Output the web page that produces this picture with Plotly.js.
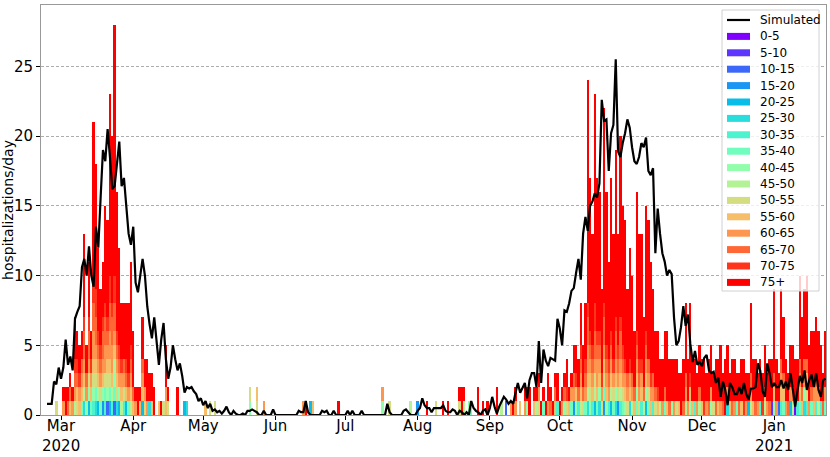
<!DOCTYPE html>
<html>
<head>
<meta charset="utf-8">
<script src="https://cdn.plot.ly/plotly-3.0.1.min.js"></script>
<style>
    html, body { margin: 0; padding: 0; background: #fff; }
    #hospPlot { width: 830px; height: 457px; }
</style>
</head>
<body>
<div id="hospPlot"></div>
<script>
// Daily series start on 24 Feb 2020, one entry per day up to 23 Jan 2021.
const startDate = "2020-02-24";

const ageGroups = [
    "0-5", "5-10", "10-15", "15-20", "20-25", "25-30", "30-35", "35-40",
    "40-45", "45-50", "50-55", "55-60", "60-65", "65-70", "70-75", "75+"
];

// Simulated hospitalizations per day (black line).
const simulated = [
    0.8, 0.8, 0.8, 2.4, 2.2, 3.4, 2.6, 3.4, 5.4, 3.6,
    4.2, 3.2, 6.9, 7.4, 7.8, 10.6, 11.2, 10.0, 12.1, 10.0,
    9.2, 13.5, 12.0, 15.6, 19.0, 18.2, 20.5, 18.5, 16.2, 16.4,
    17.8, 19.6, 16.4, 17.0, 15.0, 13.0, 12.2, 13.5, 9.5, 8.8,
    10.0, 11.2, 10.0, 7.8, 6.5, 5.5, 7.0, 5.3, 3.6, 5.4,
    6.6, 4.0, 2.6, 3.4, 5.0, 4.0, 3.2, 3.7, 2.8, 1.6,
    2.0, 1.9, 2.0, 1.7, 1.5, 1.0, 1.2, 0.7, 1.0, 0.5,
    0.8, 0.3, 0.4, 0.2, 0.3, 0.1, 0.3, 0.6, 0.2, 0.0,
    0.3, 0.1, 0.0, 0.0, 0.1, 0.0, 0.3, 0.3, 0.4, 0.3,
    0.2, 0.0, 0.0, 0.3, 0.0, 0.0, 0.0, 0.4, 0.0, 0.0,
    0.0, 0.0, 0.0, 0.0, 0.0, 0.0, 0.0, 0.0, 0.3, 0.2,
    0.2, 1.0, 0.2, 0.0, 0.0, 0.0, 0.0, 0.0, 0.3, 0.2,
    0.3, 0.0, 0.0, 0.3, 0.0, 0.0, 0.0, 0.0, 0.0, 0.3,
    0.0, 0.3, 0.0, 0.0, 0.0, 0.3, 0.0, 0.0, 0.0, 0.0,
    0.0, 0.0, 0.0, 0.0, 0.0, 0.0, 0.8, 0.2, 0.0, 0.0,
    0.0, 0.0, 0.0, 0.3, 0.4, 0.2, 0.0, 0.0, 0.0, 0.3,
    0.5, 1.2, 0.7, 0.5, 0.5, 0.2, 0.5, 0.5, 0.5, 0.5,
    0.7, 0.3, 0.2, 0.2, 0.4, 0.3, 0.0, 0.3, 0.2, 0.0,
    0.2, 0.0, 1.0, 0.5, 0.3, 0.2, 0.0, 0.3, 0.4, 0.0,
    0.5, 1.3, 0.6, 0.1, 0.6, 1.0, 1.3, 1.1, 0.8, 1.0,
    0.8, 1.6, 2.3, 1.6, 2.0, 2.3, 1.2, 2.5, 3.0, 3.0,
    2.0, 5.3, 2.3, 4.7, 3.9, 3.5, 4.1, 4.0, 3.9, 6.9,
    6.2, 5.0, 7.5, 7.4, 8.0, 8.9, 9.1, 10.2, 11.2, 9.7,
    13.0, 14.2, 13.2, 15.0, 15.3, 15.9, 15.6, 16.6, 22.6, 21.1,
    21.2, 17.5, 20.2, 20.8, 25.5, 18.9, 18.5, 19.5, 20.2, 21.2,
    20.6, 19.2, 18.2, 18.0, 18.5, 19.5, 19.2, 19.9, 17.5, 17.2,
    17.7, 11.6, 14.8, 13.0, 11.6, 11.0, 10.0, 10.4, 10.1, 7.0,
    5.0, 5.3, 6.3, 7.8, 6.4, 7.2, 5.1, 3.8, 4.6, 3.6,
    3.8, 3.5, 4.1, 4.3, 3.2, 3.0, 3.1, 2.3, 2.7, 1.3,
    2.4, 1.8, 0.7, 2.3, 2.0, 1.5, 1.5, 2.0, 1.5, 2.3,
    1.5, 1.1, 1.9, 1.9, 2.0, 3.7, 3.2, 1.7, 1.3, 3.7,
    3.0, 2.0, 2.3, 2.0, 2.0, 2.5, 1.9, 2.4, 1.8, 3.0,
    1.8, 0.6, 1.8, 2.8, 2.3, 3.2, 1.8, 2.5, 2.9, 2.0,
    3.0, 1.8, 1.3, 2.5, 2.6
];

// Observed hospitalizations per day, all ages.
const observedTotal = [
    0, 0, 0, 0, 1, 0, 0, 2, 2, 2,
    3, 2, 7, 6, 5, 6, 13, 5, 11, 6,
    21, 18, 12, 9, 11, 15, 14, 23, 20, 28,
    16, 12, 8, 8, 8, 8, 11, 6, 2, 2,
    2, 7, 4, 4, 3, 3, 2, 0, 1, 1,
    1, 5, 2, 0, 0, 0, 2, 0, 0, 1,
    1, 0, 0, 0, 0, 0, 0, 0, 1, 0,
    1, 0, 1, 0, 0, 0, 0, 0, 0, 0,
    0, 0, 0, 0, 0, 0, 0, 2, 0, 0,
    2, 0, 0, 1, 0, 0, 0, 0, 0, 0,
    0, 0, 0, 0, 0, 0, 0, 0, 0, 0,
    1, 1, 0, 1, 1, 0, 0, 0, 0, 0,
    0, 0, 0, 0, 0, 1, 0, 0, 0, 0,
    0, 0, 0, 0, 0, 0, 0, 0, 0, 0,
    0, 0, 0, 0, 2, 0, 0, 1, 0, 0,
    0, 0, 0, 0, 0, 0, 1, 0, 0, 1,
    0, 0, 0, 1, 0, 0, 0, 1, 0, 0,
    1, 0, 1, 0, 0, 0, 0, 2, 2, 2,
    0, 1, 1, 0, 0, 2, 0, 1, 0, 1,
    0, 0, 0, 2, 0, 1, 0, 1, 0, 1,
    1, 2, 0, 1, 0, 2, 2, 2, 0, 2,
    2, 3, 1, 2, 1, 3, 2, 1, 3, 3,
    1, 2, 3, 4, 2, 3, 5, 5, 4, 8,
    5, 8, 24, 17, 13, 23, 17, 16, 9, 22,
    16, 11, 17, 13, 19, 13, 20, 15, 14, 9,
    12, 10, 6, 16, 13, 13, 7, 15, 14, 11,
    9, 6, 6, 4, 4, 6, 6, 4, 4, 4,
    4, 3, 3, 4, 8, 4, 8, 4, 4, 3,
    5, 4, 4, 3, 4, 5, 3, 4, 4, 5,
    3, 4, 5, 3, 4, 4, 3, 3, 4, 4,
    3, 3, 8, 4, 4, 3, 4, 3, 5, 3,
    4, 4, 9, 4, 3, 9, 7, 4, 3, 5,
    5, 4, 4, 10, 7, 9, 10, 5, 6, 6,
    7, 6, 5, 3, 6
];

// Cases under 75 per day: [day index, one hex digit per case = age group index].
// Everything else on that day is 75+.
const youngerCases = [
    [4, "A"], [7, "C"], [9, "D"], [10, "BD"], [11, "C"], [12, "9CDE"], [13, "ABDE"],
    [14, "BCE"], [15, "7BCD"], [16, "59BCDDE"], [17, "8CD"], [18, "48ACDDE"], [19, "7BCE"],
    [20, "68ABCCDDEE"], [21, "57ABCDDEE"], [22, "49BCDE"], [23, "7ACDE"], [24, "38BCDDE"],
    [25, "67ACCDDE"], [26, "28ABCDE"], [27, "47ABCCDDEE"], [28, "69BCCDDE"], [29, "2789BCDDEE"],
    [30, "5ABCDE"], [31, "48CDE"], [32, "9BCE"], [33, "6ACD"], [34, "4BDE"], [35, "7CE"],
    [36, "9BCDE"], [37, "BD"], [38, "C"], [40, "B"], [41, "4BCD"], [42, "AC"], [43, "C"],
    [44, "5"], [45, "B"], [48, "B"], [50, "A"], [51, "BC"], [52, "A"], [59, "4"], [60, "5"],
    [68, "B"], [70, "A"], [72, "A"], [87, "8A"], [90, "BA"], [93, "C"], [110, "C"], [113, "4"],
    [114, "B"], [144, "8C"], [147, "A"], [156, "9"], [159, "3"], [167, "A"], [177, "A"],
    [179, "9"], [181, "8"], [182, "7"], [195, "9"], [197, "2"], [199, "C"], [201, "C"],
    [203, "B"], [205, "C"], [206, "8"], [209, "B"], [210, "9"], [211, "AC"], [213, "7"],
    [215, "C"], [216, "D"], [218, "BD"], [219, "6"], [221, "C"], [222, "8D"], [223, "AE"],
    [224, "B"], [225, "7C"], [226, "3CD"], [227, "8BE"], [228, "6D"], [229, "9BCDE"],
    [230, "AD"], [231, "7CDE"], [232, "59BCCDDE"], [233, "8ABCDE"], [234, "6BCDE"],
    [235, "49ACDDEE"], [236, "7BCCDE"], [237, "58BCDE"], [238, "ACE"], [239, "37ABCDDE"],
    [240, "8BCDE"], [241, "6CDE"], [242, "49BCDE"], [243, "7ACE"], [244, "58BCDDE"],
    [245, "3ACDE"], [246, "69BCDDE"], [247, "7ACDE"], [248, "8BCE"], [249, "ACD"],
    [250, "5BCE"], [251, "9CD"], [252, "BD"], [253, "78BCDE"], [254, "ACDE"], [255, "6BCE"],
    [256, "9D"], [257, "48BCDE"], [258, "7ACD"], [259, "BCE"], [260, "6CD"], [261, "AD"],
    [262, "BE"], [263, "9"], [264, "C"], [265, "7D"], [266, "B"], [267, "D"], [268, "8"],
    [269, "C"], [270, "A"], [271, "B"], [273, "D"], [274, "9CD"], [275, "C"], [276, "8BE"],
    [277, "B"], [278, "6"], [279, "C"], [280, "9D"], [281, "B"], [282, "E"], [283, "C"],
    [284, "D"], [285, "8C"], [286, "A"], [287, "D"], [288, "B"], [289, "C"], [290, "D"],
    [292, "5C"], [293, "B"], [294, "D"], [295, "C"], [296, "7"], [297, "D"], [298, "B"],
    [299, "E"], [300, "C"], [301, "4"], [302, "9CD"], [303, "B"], [304, "D"], [305, "C"],
    [306, "6"], [307, "E"], [308, "9B"], [309, "C"], [310, "D"], [311, "1"], [312, "8BD"],
    [313, "C"], [314, "2"], [315, "6BCD"], [316, "7BD"], [317, "C"], [318, "D"], [319, "4C"],
    [320, "9D"], [321, "0"], [322, "6"], [323, "7BCD"], [324, "BD"], [325, "58CD"],
    [326, "6ABD"], [327, "C"], [328, "7D"], [329, "BC"], [330, "6CD"], [331, "9C"],
    [332, "6"], [333, "D"], [334, "7C"]
];

const tickDates = [
    "2020-03-01", "2020-04-01", "2020-05-01", "2020-06-01", "2020-07-01", "2020-08-01",
    "2020-09-01", "2020-10-01", "2020-11-01", "2020-12-01", "2021-01-01"
];
const tickLabels = ["Mar", "Apr", "May", "Jun", "Jul", "Aug", "Sep", "Oct", "Nov", "Dec", "Jan"];
const yearLabels = [["2020-03-01", "2020"], ["2021-01-01", "2021"]];


document.addEventListener("DOMContentLoaded", () => {
    renderHospitalizations();
});


function buildDates(count) {
    const dates = [];
    const first = new Date(startDate + "T00:00:00Z");

    for (let i = 0; i < count; i++) {
        const day = new Date(first.getTime() + i * 86400000);
        dates.push(day.toISOString().slice(0, 10));
    }

    return dates;
}


// matplotlib "rainbow" colormap
function rainbowColor(index, count) {
    const x = index / (count - 1);
    const clip = v => Math.max(0, Math.min(1, v));
    const r = clip(Math.abs(2 * x - 0.5));
    const g = clip(Math.sin(Math.PI * x));
    const b = clip(Math.cos(Math.PI * x / 2));

    return `rgb(${Math.round(r * 255)},${Math.round(g * 255)},${Math.round(b * 255)})`;
}


function countsByAge() {
    const counts = ageGroups.map(() => observedTotal.map(() => 0));
    const lastGroup = ageGroups.length - 1;

    youngerCases.forEach(([day, codes]) => {
        for (const code of codes) {
            counts[parseInt(code, 16)][day] += 1;
        }
    });

    observedTotal.forEach((total, day) => {
        let younger = 0;
        for (let g = 0; g < lastGroup; g++) {
            younger += counts[g][day];
        }
        counts[lastGroup][day] = total - younger;
    });

    return counts;
}


// Legend drawn by hand, matplotlib style (wide swatches, tight rows).
function buildLegend() {
    const shapes = [];
    const annotations = [];
    const names = ["Simulated", ...ageGroups];

    // plot area: 785 x 410 px
    const px = v => (v - 41) / 785;
    const py = v => (415 - v) / 410;

    shapes.push({
        type: "rect", xref: "paper", yref: "paper", layer: "above",
        x0: px(722), x1: px(819), y0: py(291), y1: py(10),
        fillcolor: "rgba(255,255,255,0.8)",
        line: { color: "#d0d0d0", width: 1 }
    });

    names.forEach((name, i) => {
        const rowY = 20 + i * 16.4;

        if (i === 0) {
            shapes.push({
                type: "line", xref: "paper", yref: "paper", layer: "above",
                x0: px(727), x1: px(750), y0: py(rowY), y1: py(rowY),
                line: { color: "#000", width: 2.2 }
            });
        } else {
            shapes.push({
                type: "rect", xref: "paper", yref: "paper", layer: "above",
                x0: px(727), x1: px(750), y0: py(rowY + 3.5), y1: py(rowY - 3.5),
                fillcolor: rainbowColor(i - 1, ageGroups.length),
                line: { width: 0 }
            });
        }

        annotations.push({
            xref: "paper", yref: "paper",
            x: px(758), y: py(rowY),
            xanchor: "left", yanchor: "middle",
            showarrow: false,
            text: name,
            font: { size: 12, color: "#000" }
        });
    });

    return { shapes, annotations };
}


function renderHospitalizations() {
    const dates = buildDates(observedTotal.length);
    const counts = countsByAge();
    const legend = buildLegend();

    const lineTrace = {
        x: dates,
        y: simulated,
        type: "scatter",
        mode: "lines",
        name: "Simulated",
        line: { color: "#000", width: 2.2 }
    };

    const barTraces = ageGroups.map((group, g) => ({
        x: dates,
        y: counts[g],
        type: "bar",
        name: group,
        marker: {
            color: rainbowColor(g, ageGroups.length),
            line: { width: 0 }
        }
    }));

    const yearAnnotations = yearLabels.map(([date, year]) => ({
        x: date,
        xref: "x",
        y: (415 - 446) / 410,
        yref: "paper",
        yanchor: "middle",
        showarrow: false,
        text: year,
        font: { size: 15, color: "#000" }
    }));

    const layout = {
        width: 830,
        height: 457,
        barmode: "stack",
        bargap: 0,
        paper_bgcolor: "#fff",
        plot_bgcolor: "#fff",
        font: { family: "DejaVu Sans", color: "#000", size: 14 },
        margin: { l: 41, r: 4, t: 5, b: 42 },
        showlegend: false,
        shapes: legend.shapes,
        annotations: [...legend.annotations, ...yearAnnotations],
        xaxis: {
            type: "date",
            range: ["2020-02-21 10:00", "2021-01-23 05:00"],
            tickmode: "array",
            tickvals: tickDates,
            ticktext: tickLabels,
            ticks: "outside",
            ticklen: 4,
            tickcolor: "#000",
            tickfont: { size: 15 },
            ticklabelstandoff: -7,
            showgrid: false,
            showline: true,
            linecolor: "#999",
            linewidth: 1,
            mirror: true,
            zeroline: false
        },
        yaxis: {
            range: [0, 29.4],
            tickvals: [0, 5, 10, 15, 20, 25],
            ticks: "outside",
            ticklen: 4,
            tickcolor: "#000",
            tickfont: { size: 15 },
            showgrid: true,
            gridcolor: "#777",
            gridwidth: 0.6,
            griddash: "3px,2px",
            showline: true,
            linecolor: "#999",
            linewidth: 1,
            mirror: true,
            zeroline: false,
            title: { text: "hospitalizations/day", font: { size: 14 }, standoff: 6 }
        }
    };

    Plotly.newPlot("hospPlot", [lineTrace, ...barTraces], layout, { staticPlot: true });
}
</script>
</body>
</html>
